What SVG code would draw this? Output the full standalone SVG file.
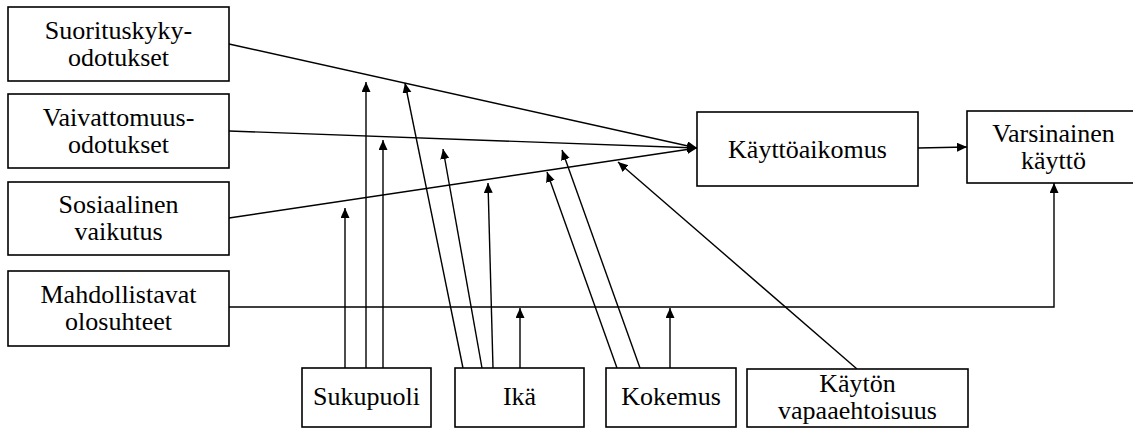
<svg xmlns="http://www.w3.org/2000/svg" width="1133" height="428" viewBox="0 0 1133 428">
<style>
.box{fill:#fff;stroke:#000;stroke-width:1.6}
.c{fill:none;stroke:#000;stroke-width:1.4}
</style>
<defs>
<marker id="ah" markerUnits="userSpaceOnUse" markerWidth="12" markerHeight="10" refX="10" refY="4.5" orient="auto" viewBox="0 0 12 10">
<path d="M0,0 L10,4.5 L0,9 z" fill="#000"/>
</marker>
</defs>
<rect width="1133" height="428" fill="#fff"/>
<g id="connectors">
<line class="c" x1="229" y1="44" x2="697" y2="148" marker-end="url(#ah)"/>
<line class="c" x1="229" y1="131" x2="697" y2="148" marker-end="url(#ah)"/>
<line class="c" x1="229" y1="218" x2="697" y2="148" marker-end="url(#ah)"/>
<line class="c" x1="918" y1="148" x2="967" y2="147" marker-end="url(#ah)"/>
<path class="c" d="M229,307 H1054 V183" marker-end="url(#ah)"/>
<line class="c" x1="345" y1="368" x2="345" y2="208" marker-end="url(#ah)"/>
<line class="c" x1="366" y1="368" x2="366" y2="82" marker-end="url(#ah)"/>
<line class="c" x1="383" y1="368" x2="383" y2="140" marker-end="url(#ah)"/>
<line class="c" x1="463" y1="368" x2="405" y2="83" marker-end="url(#ah)"/>
<line class="c" x1="482" y1="368" x2="443" y2="149" marker-end="url(#ah)"/>
<line class="c" x1="493" y1="368" x2="488" y2="183" marker-end="url(#ah)"/>
<line class="c" x1="520" y1="368" x2="520" y2="308" marker-end="url(#ah)"/>
<line class="c" x1="617" y1="368" x2="547" y2="172" marker-end="url(#ah)"/>
<line class="c" x1="640" y1="368" x2="562" y2="150" marker-end="url(#ah)"/>
<line class="c" x1="670" y1="368" x2="670" y2="308" marker-end="url(#ah)"/>
<line class="c" x1="857" y1="369" x2="618" y2="162" marker-end="url(#ah)"/>
</g>
<g font-family="Liberation Serif, DejaVu Serif, serif" font-size="26" fill="#000" text-anchor="middle">
<g id="n-suorituskyky">
<rect class="box" x="8" y="7" width="221" height="74"/>
<text x="118.5" y="39">Suorituskyky-</text>
<text x="118.5" y="66">odotukset</text>
</g>
<g id="n-vaivattomuus">
<rect class="box" x="8" y="94" width="221" height="74"/>
<text x="118.5" y="126">Vaivattomuus-</text>
<text x="118.5" y="153">odotukset</text>
</g>
<g id="n-sosiaalinen">
<rect class="box" x="8" y="182" width="221" height="73"/>
<text x="118.5" y="213">Sosiaalinen</text>
<text x="118.5" y="240">vaikutus</text>
</g>
<g id="n-mahdollistavat">
<rect class="box" x="8" y="271" width="221" height="75"/>
<text x="118.5" y="303">Mahdollistavat</text>
<text x="118.5" y="330">olosuhteet</text>
</g>
<g id="n-kayttoaikomus">
<rect class="box" x="697" y="112" width="221" height="74"/>
<text x="807.5" y="158">Käyttöaikomus</text>
</g>
<g id="n-varsinainen">
<rect class="box" x="967" y="111" width="173" height="72"/>
<text x="1053.5" y="142">Varsinainen</text>
<text x="1053.5" y="169">käyttö</text>
</g>
<g id="n-sukupuoli">
<rect class="box" x="302" y="368" width="129" height="59"/>
<text x="366.5" y="405">Sukupuoli</text>
</g>
<g id="n-ika">
<rect class="box" x="455" y="368" width="129" height="59"/>
<text x="519.5" y="405">Ikä</text>
</g>
<g id="n-kokemus">
<rect class="box" x="606" y="368" width="130" height="59"/>
<text x="671" y="405">Kokemus</text>
</g>
<g id="n-vapaaehtoisuus">
<rect class="box" x="747" y="369" width="221" height="58"/>
<text x="857.5" y="392">Käytön</text>
<text x="857.5" y="419">vapaaehtoisuus</text>
</g>
</g>
</svg>
